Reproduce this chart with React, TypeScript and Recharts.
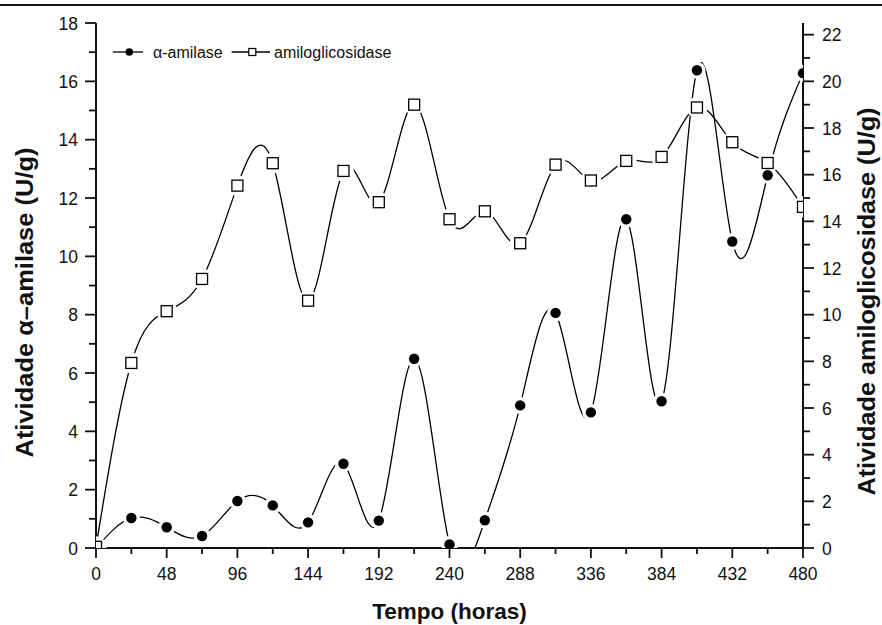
import React from 'react';
import { LineChart, Line, XAxis, YAxis, Label, Legend } from 'recharts';

// tempo de cultivo (h)
const hours = [0, 24, 48, 72, 96, 120, 144, 168, 192, 216, 240, 264, 288, 312, 336, 360, 384, 408, 432, 456, 480];
// atividade alfa-amilase (U/g) - eixo esquerdo
const alphaAmilase = [0, 1.03, 0.71, 0.41, 1.61, 1.46, 0.88, 2.89, 0.94, 6.49, 0.12, 0.95, 4.89, 8.06, 4.65, 11.27, 5.03, 16.38, 10.51, 12.78, 16.28];
// atividade amiloglicosidase (U/g) - eixo direito
const amiloglicosidase = [0.05, 7.93, 10.15, 11.53, 15.53, 16.49, 10.6, 16.16, 14.82, 19.0, 14.09, 14.43, 13.06, 16.43, 15.75, 16.59, 16.76, 18.88, 17.39, 16.5, 14.62];

const xTicks = [0, 24, 48, 72, 96, 120, 144, 168, 192, 216, 240, 264, 288, 312, 336, 360, 384, 408, 432, 456, 480];
const leftTicks = [0, 1, 2, 3, 4, 5, 6, 7, 8, 9, 10, 11, 12, 13, 14, 15, 16, 17, 18];
const rightTicks = [0, 1, 2, 3, 4, 5, 6, 7, 8, 9, 10, 11, 12, 13, 14, 15, 16, 17, 18, 19, 20, 21, 22];

const FONT = '"Liberation Sans", Arial, Helvetica, sans-serif';
const INK = '#111';

const data = hours.map((h, i) => ({
  hora: h,
  alfa: alphaAmilase[i],
  amilo: amiloglicosidase[i],
}));

const BottomTick = (props: any) => {
  const { x, y, payload } = props;
  const major = payload.value % 48 === 0;
  return (
    <g>
      <line x1={x} y1={y} x2={x} y2={y + (major ? 10 : 6)} stroke={INK} strokeWidth={1.8} />
      {major && (
        <text x={x} y={y + 32} textAnchor="middle" fontSize={17.5} fontFamily={FONT} fill={INK}>
          {payload.value}
        </text>
      )}
    </g>
  );
};

const TopTick = (props: any) => {
  const { x, y, payload } = props;
  const major = payload.value % 48 === 0;
  return <line x1={x} y1={y} x2={x} y2={y + (major ? 10 : 6)} stroke={INK} strokeWidth={1.8} />;
};

const LeftTick = (props: any) => {
  const { x, y, payload } = props;
  const major = payload.value % 2 === 0;
  return (
    <g>
      <line x1={x - (major ? 11 : 7)} y1={y} x2={x} y2={y} stroke={INK} strokeWidth={1.8} />
      {major && (
        <text x={x - 18} y={y + 6.5} textAnchor="end" fontSize={17.5} fontFamily={FONT} fill={INK}>
          {payload.value}
        </text>
      )}
    </g>
  );
};

const RightTick = (props: any) => {
  const { x, y, payload } = props;
  const major = payload.value % 2 === 0;
  return (
    <g>
      <line x1={x} y1={y} x2={x + (major ? 11 : 7)} y2={y} stroke={INK} strokeWidth={1.8} />
      {major && (
        <text x={x + 19} y={y + 6.5} textAnchor="start" fontSize={17.5} fontFamily={FONT} fill={INK}>
          {payload.value}
        </text>
      )}
    </g>
  );
};

const LeftTitle = (props: any) => {
  const vb = props.viewBox;
  const cx = vb.x + 25;
  const cy = vb.y + vb.height / 2 + 17;
  return (
    <text
      x={cx}
      y={cy}
      transform={`rotate(-90 ${cx} ${cy})`}
      textAnchor="middle"
      dominantBaseline="central"
      fontSize={23}
      fontWeight="bold"
      fontFamily={FONT}
      fill={INK}
      textLength={310}
      lengthAdjust="spacingAndGlyphs"
    >
      Atividade α–amilase (U/g)
    </text>
  );
};

const RightTitle = (props: any) => {
  const vb = props.viewBox;
  const cx = vb.x + 64;
  const cy = vb.y + vb.height / 2 + 16;
  return (
    <text
      x={cx}
      y={cy}
      transform={`rotate(-90 ${cx} ${cy})`}
      textAnchor="middle"
      dominantBaseline="central"
      fontSize={23}
      fontWeight="bold"
      fontFamily={FONT}
      fill={INK}
      textLength={388}
      lengthAdjust="spacingAndGlyphs"
    >
      Atividade amiloglicosidase (U/g)
    </text>
  );
};

const BottomTitle = (props: any) => {
  const vb = props.viewBox;
  return (
    <text
      x={vb.x + vb.width / 2}
      y={vb.y + 63}
      textAnchor="middle"
      dominantBaseline="central"
      fontSize={22.5}
      fontWeight="bold"
      fontFamily={FONT}
      fill={INK}
    >
      Tempo (horas)
    </text>
  );
};

// halos brancos fazem as falhas da linha em volta dos marcadores
const haloCircle = (props: any) => {
  const { cx, cy, index } = props;
  if (cx == null || cy == null) return <g key={`hc-${index}`} />;
  return <circle key={`hc-${index}`} cx={cx} cy={cy} r={8.5} fill="#fff" />;
};

const haloSquare = (props: any) => {
  const { cx, cy, index } = props;
  if (cx == null || cy == null) return <g key={`hs-${index}`} />;
  return <circle key={`hs-${index}`} cx={cx} cy={cy} r={10.5} fill="#fff" />;
};

const dotCircle = (props: any) => {
  const { cx, cy, index } = props;
  if (cx == null || cy == null) return <g key={`dc-${index}`} />;
  return <circle key={`dc-${index}`} cx={cx} cy={cy} r={5.2} fill="#000" />;
};

const dotSquare = (props: any) => {
  const { cx, cy, index } = props;
  if (cx == null || cy == null) return <g key={`ds-${index}`} />;
  return (
    <rect key={`ds-${index}`} x={cx - 5.5} y={cy - 5.5} width={11} height={11} fill="#fff" stroke="#000" strokeWidth={1.3} />
  );
};

const renderLegend = () => (
  <svg width={300} height={22} style={{ display: 'block' }}>
    <line x1={4.7} y1={11} x2={35} y2={11} stroke="#000" strokeWidth={1.3} />
    <circle cx={21.3} cy={11} r={3.8} fill="#000" />
    <text x={45} y={16.5} fontSize={16} fontFamily={FONT} fill={INK}>α-amilase</text>
    <line x1={123.7} y1={11} x2={162} y2={11} stroke="#000" strokeWidth={1.3} />
    <rect x={140.8} y={7.5} width={7} height={7} fill="#fff" stroke="#000" strokeWidth={1.2} />
    <text x={166} y={16.5} fontSize={16} fontFamily={FONT} fill={INK}>amiloglicosidase</text>
  </svg>
);

export default function App() {
  return (
    <div style={{ position: 'absolute', left: 0, top: 0, width: 882, height: 625, background: '#fff' }}>
      <div style={{ position: 'absolute', left: 0, top: 4, width: 882, height: 2, background: '#111' }} />
      <LineChart width={882} height={625} data={data} margin={{ top: 23, right: 0, bottom: 0, left: 0 }}>
        <XAxis
          xAxisId="bottom"
          dataKey="hora"
          type="number"
          domain={[0, 480]}
          ticks={xTicks}
          interval={0}
          allowDataOverflow
          height={77}
          tickSize={0}
          tickMargin={0}
          tickLine={false}
          axisLine={{ stroke: INK, strokeWidth: 2 }}
          tick={<BottomTick />}
        >
          <Label content={BottomTitle} />
        </XAxis>
        <XAxis
          xAxisId="top"
          orientation="top"
          dataKey="hora"
          type="number"
          domain={[0, 480]}
          ticks={xTicks}
          interval={0}
          allowDataOverflow
          height={0}
          tickSize={0}
          tickMargin={0}
          tickLine={false}
          axisLine={{ stroke: INK, strokeWidth: 2 }}
          tick={<TopTick />}
        />
        <YAxis
          yAxisId="left"
          type="number"
          domain={[0, 18]}
          ticks={leftTicks}
          interval={0}
          allowDataOverflow
          width={96}
          tickSize={0}
          tickMargin={0}
          tickLine={false}
          axisLine={{ stroke: INK, strokeWidth: 2 }}
          tick={<LeftTick />}
        >
          <Label content={LeftTitle} />
        </YAxis>
        <YAxis
          yAxisId="right"
          orientation="right"
          type="number"
          domain={[0, 22.5]}
          ticks={rightTicks}
          interval={0}
          allowDataOverflow
          width={79}
          tickSize={0}
          tickMargin={0}
          tickLine={false}
          axisLine={{ stroke: INK, strokeWidth: 2 }}
          tick={<RightTick />}
        >
          <Label content={RightTitle} />
        </YAxis>
        <Legend
          layout="vertical"
          align="center"
          verticalAlign="middle"
          wrapperStyle={{ left: 108, top: 41, width: 300, height: 22 }}
          content={renderLegend}
        />
        <Line
          xAxisId="bottom"
          yAxisId="left"
          type="natural"
          dataKey="alfa"
          name="α-amilase"
          stroke="#000"
          strokeWidth={1.3}
          dot={haloCircle}
          activeDot={false}
          isAnimationActive={false}
        />
        <Line
          xAxisId="bottom"
          yAxisId="right"
          type="natural"
          dataKey="amilo"
          name="amiloglicosidase"
          stroke="#000"
          strokeWidth={1.3}
          dot={haloSquare}
          activeDot={false}
          isAnimationActive={false}
        />
        <Line
          xAxisId="bottom"
          yAxisId="left"
          type="natural"
          dataKey="alfa"
          legendType="none"
          stroke="none"
          dot={dotCircle}
          activeDot={false}
          isAnimationActive={false}
        />
        <Line
          xAxisId="bottom"
          yAxisId="right"
          type="natural"
          dataKey="amilo"
          legendType="none"
          stroke="none"
          dot={dotSquare}
          activeDot={false}
          isAnimationActive={false}
        />
      </LineChart>
    </div>
  );
}
